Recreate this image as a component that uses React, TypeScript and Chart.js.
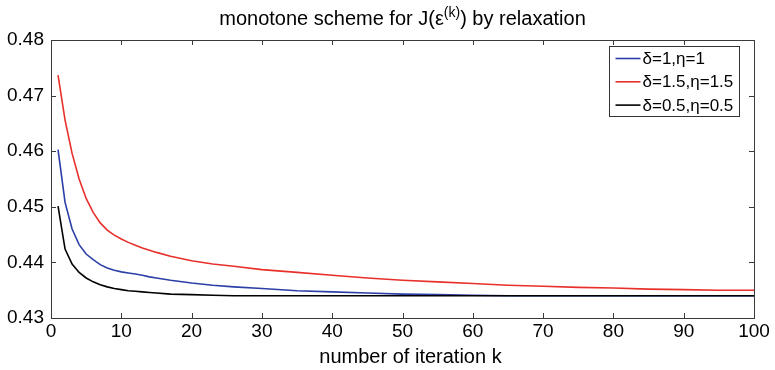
import { useEffect, useRef } from "react";
import { Chart, registerables } from "chart.js";

Chart.register(...registerables);

// Iteration numbers at which J(eps^(k)) was sampled
const iterations = [
  1, 2, 3, 4, 5, 6, 7, 8, 9, 10, 11, 12, 13, 14, 15, 17, 20, 23, 26, 30, 35, 40,
  45, 50, 55, 60, 65, 70, 75, 80, 85, 90, 95, 100,
];

// delta = 1, eta = 1
const seriesDelta1 = [
  0.4603, 0.4508, 0.446, 0.4432, 0.4415, 0.4405, 0.4396, 0.439, 0.4386, 0.4383,
  0.4381, 0.4379, 0.4377, 0.4374, 0.4372, 0.4368, 0.4363, 0.4359, 0.4356, 0.4353,
  0.4349, 0.4347, 0.4345, 0.4343, 0.4342, 0.4341, 0.434, 0.434, 0.434, 0.434,
  0.434, 0.434, 0.434, 0.434,
];

// delta = 1.5, eta = 1.5
const seriesDelta15 = [
  0.4737, 0.4656, 0.4596, 0.455, 0.4515, 0.449, 0.4471, 0.4458, 0.4449, 0.4442,
  0.4436, 0.4431, 0.4426, 0.4422, 0.4418, 0.4411, 0.4403, 0.4397, 0.4393, 0.4387,
  0.4382, 0.4377, 0.4372, 0.4368, 0.4365, 0.4362, 0.4359, 0.4357, 0.4355, 0.4354,
  0.4352, 0.4351, 0.435, 0.435,
];

// delta = 0.5, eta = 0.5
const seriesDelta05 = [
  0.4501, 0.4424, 0.4397, 0.4382, 0.4372, 0.4365, 0.436, 0.4356, 0.4353, 0.4351,
  0.4349, 0.4348, 0.4347, 0.4346, 0.4345, 0.4343, 0.4342, 0.4341, 0.434, 0.434,
  0.434, 0.434, 0.434, 0.434, 0.434, 0.434, 0.434, 0.434, 0.434, 0.434, 0.434,
  0.434, 0.434, 0.434,
];

const seriesLabels = ["δ=1,η=1", "δ=1.5,η=1.5", "δ=0.5,η=0.5"];
const seriesColors = ["#2b3fa6", "#e8302a", "#000000"];

const xTickValues = [0, 10, 20, 30, 40, 50, 60, 70, 80, 90, 100];
const yTickValues = [0.43, 0.44, 0.45, 0.46, 0.47, 0.48];

const FONT = '"Liberation Sans", Arial, Helvetica, sans-serif';
const AXIS_COLOR = "#3a3a3a";

const toPoints = (values: number[]) =>
  iterations.map((k, i) => ({ x: k, y: values[i] }));

// Box frame, inward ticks, legend box, title and x label
const framePlugin = {
  id: "matlabFrame",
  afterDraw(chart: any) {
    const { ctx, chartArea } = chart;
    const { left, right, top, bottom } = chartArea;
    const xs = chart.scales.x;
    const ys = chart.scales.y;
    ctx.save();

    // axes box
    ctx.strokeStyle = AXIS_COLOR;
    ctx.lineWidth = 1;
    ctx.strokeRect(
      Math.round(left) + 0.5,
      Math.round(top) + 0.5,
      Math.round(right - left),
      Math.round(bottom - top)
    );

    // inward tick marks on all four sides
    const tl = 5;
    ctx.beginPath();
    xTickValues.forEach((v) => {
      const px = Math.round(xs.getPixelForValue(v)) + 0.5;
      ctx.moveTo(px, bottom);
      ctx.lineTo(px, bottom - tl);
      ctx.moveTo(px, top);
      ctx.lineTo(px, top + tl);
    });
    yTickValues.forEach((v) => {
      const py = Math.round(ys.getPixelForValue(v)) + 0.5;
      ctx.moveTo(left, py);
      ctx.lineTo(left + tl, py);
      ctx.moveTo(right, py);
      ctx.lineTo(right - tl, py);
    });
    ctx.stroke();

    // legend
    const bw = 130;
    const bh = 70;
    const bx = Math.round(right - 15 - bw) + 0.5;
    const by = Math.round(top + 6) + 0.5;
    ctx.fillStyle = "#ffffff";
    ctx.fillRect(bx, by, bw, bh);
    ctx.strokeStyle = "#333333";
    ctx.strokeRect(bx, by, bw, bh);
    ctx.font = `17px ${FONT}`;
    ctx.textBaseline = "middle";
    ctx.textAlign = "left";
    seriesLabels.forEach((label, i) => {
      const ry = by + 12 + i * 23.3;
      ctx.strokeStyle = seriesColors[i];
      ctx.lineWidth = 1.6;
      ctx.beginPath();
      ctx.moveTo(bx + 6, ry);
      ctx.lineTo(bx + 31, ry);
      ctx.stroke();
      ctx.fillStyle = "#000";
      ctx.fillText(label, bx + 33, ry + 1);
    });

    // title with superscript
    const cx = (left + right) / 2;
    const parts = [
      { t: "monotone scheme for J(ε", size: 20, dy: 0 },
      { t: "(k)", size: 14, dy: -8 },
      { t: ") by relaxation", size: 20, dy: 0 },
    ];
    let total = 0;
    parts.forEach((p) => {
      ctx.font = `${p.size}px ${FONT}`;
      total += ctx.measureText(p.t).width;
    });
    let x = cx - total / 2;
    ctx.fillStyle = "#000";
    ctx.textBaseline = "alphabetic";
    parts.forEach((p) => {
      ctx.font = `${p.size}px ${FONT}`;
      ctx.fillText(p.t, x, 25 + p.dy);
      x += ctx.measureText(p.t).width;
    });

    // x axis label
    ctx.font = `20px ${FONT}`;
    ctx.textAlign = "center";
    ctx.fillText("number of iteration k", cx + 8, 363);

    ctx.restore();
  },
};

export default function App() {
  const canvasRef = useRef<HTMLCanvasElement | null>(null);

  useEffect(() => {
    document.body.style.margin = "0";
    const canvas = canvasRef.current;
    if (!canvas) return;

    const chart = new Chart(canvas, {
      type: "line",
      data: {
        datasets: [
          {
            label: seriesLabels[0],
            data: toPoints(seriesDelta1),
            borderColor: seriesColors[0],
            borderWidth: 1.6,
            pointRadius: 0,
            tension: 0,
            order: 2,
          },
          {
            label: seriesLabels[1],
            data: toPoints(seriesDelta15),
            borderColor: seriesColors[1],
            borderWidth: 1.6,
            pointRadius: 0,
            tension: 0,
            order: 1,
          },
          {
            label: seriesLabels[2],
            data: toPoints(seriesDelta05),
            borderColor: seriesColors[2],
            borderWidth: 1.6,
            pointRadius: 0,
            tension: 0,
            order: 0,
          },
        ],
      },
      options: {
        animation: false,
        responsive: false,
        maintainAspectRatio: false,
        layout: { padding: { top: 40, right: 21, left: 0, bottom: 0 } },
        plugins: {
          legend: { display: false },
          title: { display: false },
          tooltip: { enabled: false },
        },
        scales: {
          x: {
            type: "linear",
            min: 0,
            max: 100,
            afterFit: (s: any) => {
              s.height = 52;
            },
            afterBuildTicks: (s: any) => {
              s.ticks = xTickValues.map((v) => ({ value: v }));
            },
            ticks: {
              font: { size: 19, family: FONT },
              color: "#000",
              padding: 2,
              maxRotation: 0,
              autoSkip: false,
            },
            grid: { display: false, drawTicks: false },
            border: { display: false },
          },
          y: {
            type: "linear",
            min: 0.43,
            max: 0.48,
            afterFit: (s: any) => {
              s.width = 51;
            },
            afterBuildTicks: (s: any) => {
              s.ticks = yTickValues.map((v) => ({ value: v }));
            },
            ticks: {
              font: { size: 19, family: FONT },
              color: "#000",
              padding: 7,
              callback: (v: any) => Number(v).toFixed(2),
            },
            grid: { display: false, drawTicks: false },
            border: { display: false },
          },
        },
      },
      plugins: [framePlugin],
    });

    return () => chart.destroy();
  }, []);

  return (
    <div style={{ width: 775, height: 370 }}>
      <canvas ref={canvasRef} width={775} height={370} />
    </div>
  );
}
